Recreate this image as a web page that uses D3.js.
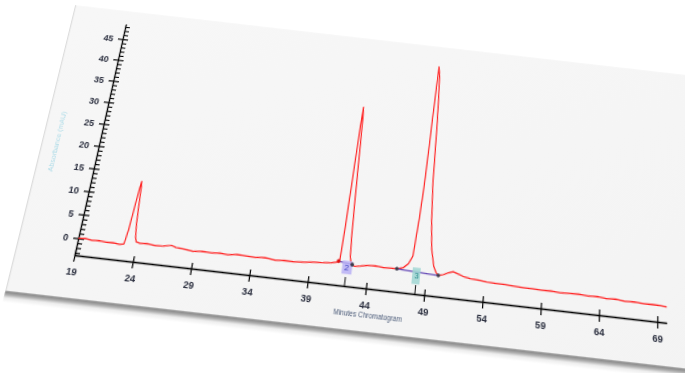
<!DOCTYPE html>
<html>
<head>
<meta charset="utf-8">
<script src="https://cdn.jsdelivr.net/npm/d3@7"></script>
<style>
  html, body { margin: 0; padding: 0; background: #fff; width: 685px; height: 373px; overflow: hidden; }
  #chart { position: absolute; left: 0; top: 0; transform-origin: 0 0; filter: blur(0.35px); }
</style>
</head>
<body>
<svg id="chart"></svg>
<script>
// chromatogram trace (minutes, signal)
const times = [19.0, 19.6, 20.2, 20.8, 21.4, 22.0, 22.6, 22.95, 23.1, 23.22, 23.32, 23.38, 23.45, 23.55, 23.68, 23.82, 23.95,
  24.3, 24.9, 25.6, 26.3, 27.0, 27.4, 28.2, 28.9, 29.7, 30.5, 31.2, 31.9, 32.7, 33.5, 34.3, 35.1, 36.0, 36.8, 37.6, 38.5,
  39.3, 40.1, 40.8, 41.3, 41.49, 41.6, 41.72, 41.84, 41.92, 41.98, 42.06, 42.16, 42.26, 42.36, 42.5, 42.8, 43.3, 43.9,
  44.6, 45.3, 46.0, 46.45, 47.0, 47.4, 47.72, 47.95, 48.1, 48.2, 48.28, 48.35, 48.42, 48.55, 48.68, 48.76, 48.85,
  49.06, 49.28, 49.6, 49.85, 50.05, 50.5, 50.9, 51.3, 51.8, 52.3, 52.8, 53.5, 54.2, 55.0, 55.8, 56.6, 57.4,
  58.2, 59.0, 59.8, 60.6, 61.4, 62.2, 63.0, 63.8, 64.6, 65.4, 66.2, 67.0, 67.8, 68.6, 69.3, 69.8];
const signal = [0.0, 0.1, -0.1, 0.0, -0.2, -0.1, -0.3, -0.1, 3.0, 8.0, 12.0, 13.4, 12.0, 8.0, 4.0, 1.5, 0.6,
  0.4, 0.5, 0.3, 0.4, 0.7, 0.4, 0.2, 0.0, 0.2, 0.1, 0.3, 0.1, 0.4, 0.3, 0.2, 0.4, 0.1, 0.3, 0.2, 0.4,
  0.6, 0.7, 0.9, 1.2, 1.4, 8.0, 19.0, 31.0, 35.5, 33.0, 25.0, 15.0, 7.0, 2.5, 1.2, 0.7, 0.9, 1.2,
  1.3, 1.1, 1.2, 1.2, 1.6, 2.5, 4.2, 12.0, 19.0, 27.0, 35.0, 41.0, 47.0, 45.0, 38.0, 31.7, 20.5,
  11.8, 6.1, 2.5, 1.3, 0.8, 1.1, 1.6, 1.9, 1.5, 1.1, 0.9, 0.8, 0.6, 0.5, 0.5, 0.4, 0.3,
  0.3, 0.2, 0.3, 0.1, 0.2, 0.3, 0.1, 0.2, 0.0, 0.1, -0.1, 0.0, -0.2, -0.1, -0.2, -0.3];

const xTicks = [19, 24, 29, 34, 39, 44, 49, 54, 59, 64, 69];
const yMajor = [0, 5, 10, 15, 20, 25, 30, 35, 40, 45];
const yMinor = d3.range(-3, 49).filter(v => v % 5 !== 0);

// integrated peaks: retention mark, label, baseline start / end
const peakTimes = [42.15, 48.2];
const peakLabels = ["2", "3"];
const peakColors = ["#b9b0f5", "#9fd6d2"];
const intStartT = [41.4, 46.45];
const intStartV = [1.4, 1.2];
const intEndT = [42.6, 50.05];
const intEndV = [1.0, 0.8];

const xTitle = "Minutes  Chromatogram";
const yTitle = "Absorbance (mAU)";

const W = 800, H = 340;
const x = d3.scaleLinear().domain([19, 69.8]).range([70, 70 + 11.66 * 50.8]);
const y = d3.scaleLinear().domain([-3.5, 48.7]).range([255, 25]);

// ---- perspective of the photographed sheet ----
function solve(A, b) {
  const n = b.length;
  const M = A.map((r, i) => r.concat([b[i]]));
  for (let c = 0; c < n; c++) {
    let p = c;
    for (let r = c + 1; r < n; r++) if (Math.abs(M[r][c]) > Math.abs(M[p][c])) p = r;
    [M[c], M[p]] = [M[p], M[c]];
    for (let r = 0; r < n; r++) {
      if (r === c) continue;
      const f = M[r][c] / M[c][c];
      for (let k = c; k <= n; k++) M[r][k] -= f * M[c][k];
    }
  }
  return M.map((r, i) => r[n] / r[i]);
}
function homography(src, dst) {
  const A = [], b = [];
  src.forEach(([sx, sy], i) => {
    const [X, Y] = dst[i];
    A.push([sx, sy, 1, 0, 0, 0, -X * sx, -X * sy]); b.push(X);
    A.push([0, 0, 0, sx, sy, 1, -Y * sx, -Y * sy]); b.push(Y);
  });
  const h = solve(A, b);
  return [[h[0], h[1], h[2]], [h[3], h[4], h[5]], [h[6], h[7], 1]];
}
function invert3(m) {
  const [[a, b, c], [d, e, f], [g, h, i]] = m;
  const A = e * i - f * h, B = -(d * i - f * g), C = d * h - e * g;
  const det = a * A + b * B + c * C;
  return [[A / det, -(b * i - c * h) / det, (b * f - c * e) / det],
          [B / det, (a * i - c * g) / det, -(a * f - c * d) / det],
          [C / det, -(a * h - b * g) / det, (a * e - b * d) / det]];
}
function apply(m, p) {
  const w = m[2][0] * p[0] + m[2][1] * p[1] + m[2][2];
  return [(m[0][0] * p[0] + m[0][1] * p[1] + m[0][2]) / w, (m[1][0] * p[0] + m[1][1] * p[1] + m[1][2]) / w];
}

const Hm = homography(
  [[x(19), y(-3.5)], [x(69), y(-3.5)], [x(19), y(48.7)], [x(69), y(48.7)]],
  [[74.6, 255], [657.3, 321.7], [126, 24], [659.2, 85]]
);
const Hinv = invert3(Hm);
const pTL = apply(Hinv, [73, 5]);
const pBL = apply(Hinv, [8, 291]);
const paper = { x: (pTL[0] + pBL[0]) / 2, y: pTL[1], x2: W - 4, y2: pBL[1] };

const svg = d3.select("#chart")
    .attr("width", W)
    .attr("height", H)
    .style("transform", `matrix3d(${[Hm[0][0], Hm[1][0], 0, Hm[2][0], Hm[0][1], Hm[1][1], 0, Hm[2][1], 0, 0, 1, 0, Hm[0][2], Hm[1][2], 0, 1].join(",")})`);

const defs = svg.append("defs");
const sg = defs.append("linearGradient").attr("id", "edge").attr("x1", 0).attr("y1", 0).attr("x2", 0).attr("y2", 1);
sg.append("stop").attr("offset", 0).attr("stop-color", "#7e7e7e");
sg.append("stop").attr("offset", 0.3).attr("stop-color", "#a8a8a8");
sg.append("stop").attr("offset", 0.6).attr("stop-color", "#ececec");
sg.append("stop").attr("offset", 1).attr("stop-color", "#ffffff");
const pg = defs.append("linearGradient").attr("id", "sheet").attr("x1", 0).attr("y1", 0).attr("x2", 1).attr("y2", 1);
pg.append("stop").attr("offset", 0).attr("stop-color", "#f7f7f7");
pg.append("stop").attr("offset", 1).attr("stop-color", "#f3f3f3");

// sheet and its edge
svg.append("rect")
    .attr("x", paper.x).attr("y", paper.y2)
    .attr("width", paper.x2 - paper.x).attr("height", 10)
    .attr("fill", "url(#edge)");
svg.append("rect")
    .attr("x", paper.x).attr("y", paper.y)
    .attr("width", paper.x2 - paper.x).attr("height", paper.y2 - paper.y)
    .attr("fill", "url(#sheet)");
svg.append("line")
    .attr("x1", paper.x + 0.5).attr("x2", paper.x + 0.5)
    .attr("y1", paper.y).attr("y2", paper.y2)
    .attr("stroke", "#d6d6d6");

// axis titles
svg.append("text")
    .attr("x", d3.mean(x.domain().map(x)))
    .attr("y", y(-3.5) + 26)
    .attr("text-anchor", "middle")
    .attr("font-family", "Liberation Sans, Arial, sans-serif")
    .attr("font-size", 6.5)
    .attr("fill", "#4a5a78")
    .text(xTitle);
svg.append("text")
    .attr("transform", `translate(${x(19) - 41},${y(20)}) rotate(-90)`)
    .attr("text-anchor", "middle")
    .attr("font-family", "Liberation Sans, Arial, sans-serif")
    .attr("font-size", 7)
    .attr("fill", "#86cde0")
    .attr("opacity", 0.75)
    .text(yTitle);

// axes
const xAxis = svg.append("g")
    .attr("transform", `translate(0,${y(-3.5)})`)
    .call(d3.axisBottom(x).tickValues(xTicks).tickSize(6).tickSizeOuter(0).tickPadding(5).tickFormat(d3.format("d")));
xAxis.selectAll(".tick line").attr("y1", -5).attr("stroke-width", 1.2);
xAxis.select(".domain").attr("stroke-width", 1.4);
xAxis.selectAll("text")
    .attr("font-family", "Liberation Sans, Arial, sans-serif")
    .attr("font-size", 9.5)
    .attr("font-weight", "bold")
    .attr("fill", "#2b2f3f");

svg.append("g")
    .attr("transform", `translate(${x(19)},0)`)
    .call(d3.axisRight(y).tickValues(yMinor).tickSize(5).tickSizeOuter(0).tickFormat(""))
    .call(g => g.select(".domain").remove())
    .selectAll(".tick line").attr("stroke-width", 1.1);

const yAxis = svg.append("g")
    .attr("transform", `translate(${x(19)},0)`)
    .call(d3.axisLeft(y).tickValues(yMajor).tickSize(5).tickSizeOuter(0).tickPadding(5));
yAxis.selectAll(".tick line").attr("x1", 6).attr("stroke-width", 1.2);
yAxis.select(".domain").attr("stroke-width", 1.4);
yAxis.selectAll("text")
    .attr("font-family", "Liberation Sans, Arial, sans-serif")
    .attr("font-size", 9.5)
    .attr("font-weight", "bold")
    .attr("fill", "#2b2f3f");

// retention marks
svg.append("g")
    .selectAll("line")
    .data(peakTimes)
    .join("line")
      .attr("x1", d => x(d)).attr("x2", d => x(d))
      .attr("y1", y(-3.5)).attr("y2", y(-3.5) - 8)
      .attr("stroke", "#222").attr("stroke-width", 1.1);

// trace
const line = d3.line()
    .x((d, i) => x(times[i]))
    .y(d => y(d));
svg.append("path")
    .attr("fill", "none")
    .attr("stroke", "#ff2424")
    .attr("stroke-width", 1.25)
    .attr("stroke-linejoin", "round")
    .attr("d", line(signal));

// integration baselines
const ints = d3.range(peakTimes.length);
svg.append("g")
    .selectAll("line")
    .data(ints)
    .join("line")
      .attr("x1", i => x(intStartT[i])).attr("y1", i => y(intStartV[i]))
      .attr("x2", i => x(intEndT[i])).attr("y2", i => y(intEndV[i]))
      .attr("stroke", "#6a4fb8").attr("stroke-width", 1.3);

// peak labels
const lab = svg.append("g")
    .selectAll("g")
    .data(ints)
    .join("g")
      .attr("transform", i => `translate(${x(peakTimes[i])},${y(0.3)})`);
lab.append("rect")
    .attr("x", -4.5).attr("y", i => i === 0 ? -6 : -7).attr("width", i => i === 0 ? 10 : 8).attr("height", i => i === 0 ? 12 : 15)
    .attr("fill", i => peakColors[i]).attr("opacity", 0.85);
lab.append("text")
    .attr("text-anchor", "middle")
    .attr("dy", "0.35em")
    .attr("font-family", "Liberation Sans, Arial, sans-serif")
    .attr("font-size", 8)
    .attr("fill", (d, i) => i === 0 ? "#3b3fc0" : "#2a8c8c")
    .text(i => peakLabels[i]);

svg.append("g")
    .selectAll("circle")
    .data(ints.flatMap(i => [[intStartT[i], intStartV[i], i === 0 ? "#e01010" : "#3a3a4a"], [intEndT[i], intEndV[i], "#3a3a4a"]]))
    .join("circle")
      .attr("cx", d => x(d[0])).attr("cy", d => y(d[1]))
      .attr("r", 1.8)
      .attr("fill", d => d[2]);
</script>
</body>
</html>
